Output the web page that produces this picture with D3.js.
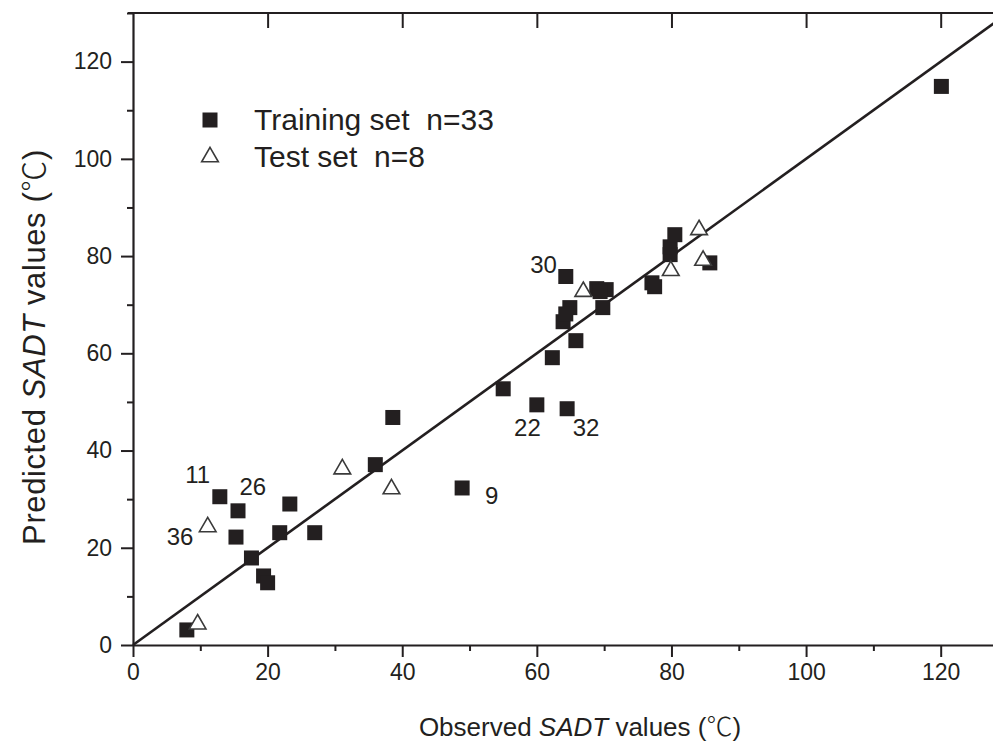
<!DOCTYPE html>
<html>
<head>
<meta charset="utf-8">
<script src="https://cdn.jsdelivr.net/npm/d3@7"></script>
<style>
  body { margin: 0; background: #fff; }
  svg { display: block; font-family: "Liberation Sans", Arial, sans-serif; }
  .axis path, .axis line { stroke: #231f20; }
  .axis text { fill: #231f20; }
</style>
</head>
<body>
<svg id="chart" width="993" height="745"></svg>
<script>
// observed vs predicted SADT (deg C)
var trainObs  = [120.1, 8.0, 12.9, 15.6, 15.3, 17.6, 19.4, 20.0, 21.8, 23.3, 27.0, 36.0, 38.6, 48.9, 55.0, 60.0, 62.3,
                 64.5, 64.3, 63.9, 64.9, 65.8, 68.9, 70.3, 69.8, 77.1, 77.5, 79.8, 79.8, 80.5, 85.7, 69.4, 64.3];
var trainPred = [114.9, 3.1, 30.5, 27.6, 22.2, 17.9, 14.2, 12.8, 23.1, 29.0, 23.1, 37.1, 46.8, 32.3, 52.7, 49.4, 59.1,
                 48.6, 75.8, 66.5, 69.4, 62.6, 73.3, 73.1, 69.4, 74.5, 73.7, 80.3, 81.9, 84.4, 78.6, 72.7, 68.1];
var testObs  = [9.6, 11.1, 31.1, 38.4, 66.9, 79.9, 84.1, 84.7];
var testPred = [4.5, 24.5, 36.4, 32.3, 72.9, 77.2, 85.6, 79.3];

// compound numbers written next to outliers (placed in data units)
var labelText = ["11", "26", "36", "30", "22", "32", "9"];
var labelObs  = [9.6, 17.8, 7.0, 61.0, 58.6, 67.3, 53.3];
var labelPred = [33.3, 30.8, 20.6, 76.6, 43.0, 43.0, 29.0];

var majorTicks = [0, 20, 40, 60, 80, 100, 120];
var minorTicks = [10, 30, 50, 70, 90, 110, 130];

var margin = {top: 13, right: 0, bottom: 100, left: 133};
var width = 875, height = 632;

var svg = d3.select("#chart");
var root = svg.append("g")
    .attr("transform", "translate(" + margin.left + "," + margin.top + ")");

var x = d3.scaleLinear().domain([0, 130]).range([0, width]);
var y = d3.scaleLinear().domain([0, 130]).range([height, 0]);

var ink = "#231f20";

// minor ticks first
root.append("g").attr("class", "axis")
    .attr("transform", "translate(0," + height + ")")
    .call(d3.axisBottom(x).tickValues(minorTicks).tickSize(6).tickFormat(""))
    .call(function(g) { g.select(".domain").remove(); });
root.append("g").attr("class", "axis")
    .call(d3.axisLeft(y).tickValues(minorTicks).tickSize(6).tickFormat(""))
    .call(function(g) { g.select(".domain").remove(); });

// bottom axis
var xAxis = root.append("g").attr("class", "axis")
    .attr("transform", "translate(0," + height + ")")
    .call(d3.axisBottom(x).tickValues(majorTicks).tickSize(12).tickPadding(5).tickSizeOuter(0));
xAxis.selectAll("text").attr("font-size", 23).attr("dy", "0.8em");

// left axis
var yAxis = root.append("g").attr("class", "axis")
    .call(d3.axisLeft(y).tickValues(majorTicks).tickSize(12).tickPadding(9).tickSizeOuter(0));
yAxis.selectAll("text").attr("font-size", 23);

// top and right axes, ticks inside
root.append("g").attr("class", "axis")
    .call(d3.axisBottom(x).tickValues(majorTicks.slice(1)).tickSize(15).tickFormat("").tickSizeOuter(0))
    .select(".domain").attr("d", "M-5,0H" + width);
root.append("g").attr("class", "axis")
    .attr("transform", "translate(" + width + ",0)")
    .call(d3.axisLeft(y).tickValues(majorTicks.slice(1)).tickSize(15).tickFormat("").tickSizeOuter(0));

root.selectAll(".axis .domain").attr("stroke-width", 2.2);
root.selectAll(".axis line").attr("stroke-width", 2);

// y = x reference line
root.append("line")
    .attr("x1", x(0)).attr("y1", y(0))
    .attr("x2", x(130)).attr("y2", y(130))
    .attr("stroke", ink)
    .attr("stroke-width", 2.6);

// training set squares
var sq = 15;
root.selectAll(".train")
    .data(trainObs)
    .enter().append("rect")
    .attr("class", "train")
    .attr("x", function(d) { return x(d) - sq / 2; })
    .attr("y", function(d, i) { return y(trainPred[i]) - sq / 2; })
    .attr("width", sq).attr("height", sq)
    .attr("fill", ink);

// test set triangles
var tri = d3.symbol().type(d3.symbolTriangle).size(120);
root.selectAll(".test")
    .data(testObs)
    .enter().append("path")
    .attr("class", "test")
    .attr("d", tri)
    .attr("transform", function(d, i) { return "translate(" + x(d) + "," + (y(testPred[i]) + 1) + ")"; })
    .attr("fill", "#fff")
    .attr("stroke", "#3a3a3a")
    .attr("stroke-width", 1.6);

// point labels
root.selectAll(".plabel")
    .data(labelText)
    .enter().append("text")
    .attr("class", "plabel")
    .attr("x", function(d, i) { return x(labelObs[i]); })
    .attr("y", function(d, i) { return y(labelPred[i]); })
    .attr("text-anchor", "middle")
    .attr("font-size", 24)
    .attr("fill", ink)
    .text(function(d) { return d; });

// legend
var legend = svg.append("g").attr("transform", "translate(210,0)");
legend.append("rect")
    .attr("x", -sq / 2).attr("y", 120 - sq / 2)
    .attr("width", sq).attr("height", sq)
    .attr("fill", ink);
legend.append("path")
    .attr("d", tri)
    .attr("transform", "translate(0,157)")
    .attr("fill", "#fff")
    .attr("stroke", "#3a3a3a")
    .attr("stroke-width", 1.6);
legend.append("text")
    .attr("x", 44).attr("y", 130)
    .attr("font-size", 30).attr("fill", ink)
    .attr("xml:space", "preserve")
    .text("Training set  n=33");
legend.append("text")
    .attr("x", 44).attr("y", 167)
    .attr("font-size", 30).attr("fill", ink)
    .attr("xml:space", "preserve")
    .text("Test set  n=8");

// axis titles
var cjk = '"Noto Sans CJK SC", sans-serif';
var xt = svg.append("text")
    .attr("x", 580).attr("y", 736)
    .attr("text-anchor", "middle")
    .attr("font-size", 26).attr("fill", ink);
xt.append("tspan").text("Observed ");
xt.append("tspan").attr("font-style", "italic").text("SADT");
xt.append("tspan").text(" values (");
xt.append("tspan").attr("font-family", cjk).attr("font-weight", 300).text("\u2103");
xt.append("tspan").text(")");

var yt = svg.append("text")
    .attr("transform", "translate(45,347) rotate(-90)")
    .attr("text-anchor", "middle")
    .attr("font-size", 31).attr("fill", ink)
    .attr("letter-spacing", 0.6);
yt.append("tspan").text("Predicted ");
yt.append("tspan").attr("font-style", "italic").text("SADT");
yt.append("tspan").text(" values (");
yt.append("tspan").attr("font-family", cjk).attr("font-weight", 300).text("\u2103");
yt.append("tspan").text(")");
</script>
</body>
</html>
